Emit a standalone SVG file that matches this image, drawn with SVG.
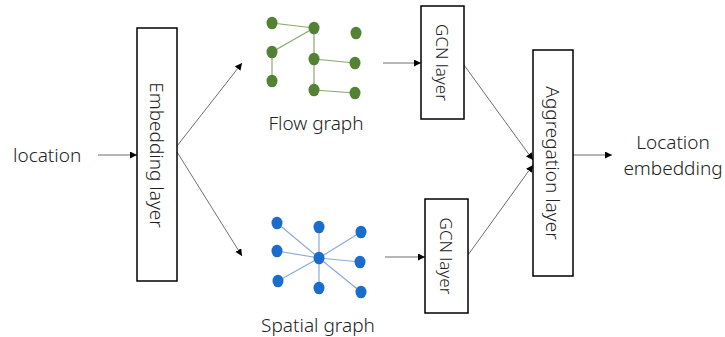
<svg xmlns="http://www.w3.org/2000/svg" width="725" height="337" viewBox="0 0 725 337">
<defs>
<marker id="arr" viewBox="0 0 10 10" refX="10" refY="5" markerWidth="7" markerHeight="7" markerUnits="userSpaceOnUse" orient="auto">
<path d="M0,0 L10,5 L0,10 z" fill="#000"/>
</marker>
</defs>
<style>
text{font-family:"Noto Sans","Liberation Sans",sans-serif;fill:#222;font-weight:300}
.box{fill:#fff;stroke:#000;stroke-width:1.5}
.conn{stroke:#6e6e6e;stroke-width:1;fill:none;marker-end:url(#arr)}
.ge{stroke:#8aa870;stroke-width:1.2}
.gn{fill:#548235}
.be{stroke:#8fa9d9;stroke-width:1.2}
.bn{fill:#1a6ccd}
.lbl{font-size:19px}
</style>
<rect width="725" height="337" fill="#fff"/>
<g id="connectors">
<line class="conn" x1="98" y1="155" x2="137" y2="155"/>
<line class="conn" x1="177" y1="146" x2="242" y2="63"/>
<line class="conn" x1="177" y1="152" x2="242" y2="256"/>
<line class="conn" x1="383" y1="63" x2="421" y2="63"/>
<line class="conn" x1="385" y1="257" x2="425" y2="257"/>
<line class="conn" x1="464" y1="65" x2="533" y2="160"/>
<line class="conn" x1="468" y1="255" x2="533" y2="165"/>
<line class="conn" x1="573" y1="155" x2="612" y2="155"/>
</g>
<g id="location">
<text class="lbl" x="13" y="162">location</text>
</g>
<g id="embedding-layer">
<rect class="box" x="137" y="28" width="40" height="253"/>
<text class="lbl" transform="translate(157,155) rotate(90)" text-anchor="middle" dominant-baseline="central">Embedding layer</text>
</g>
<g id="flow-graph">
<line class="ge" x1="272" y1="23" x2="314" y2="28"/>
<line class="ge" x1="314" y1="28" x2="272" y2="52"/>
<line class="ge" x1="272" y1="52" x2="272" y2="81"/>
<line class="ge" x1="314" y1="28" x2="314" y2="59"/>
<line class="ge" x1="314" y1="59" x2="314" y2="90"/>
<line class="ge" x1="314" y1="59" x2="355" y2="63"/>
<line class="ge" x1="314" y1="90" x2="355" y2="93"/>
<ellipse class="gn" cx="272" cy="23" rx="5.5" ry="6.3"/>
<ellipse class="gn" cx="314" cy="28" rx="5.5" ry="6.3"/>
<ellipse class="gn" cx="356" cy="33" rx="5.5" ry="6.3"/>
<ellipse class="gn" cx="272" cy="52" rx="5.5" ry="6.3"/>
<ellipse class="gn" cx="314" cy="59" rx="5.5" ry="6.3"/>
<ellipse class="gn" cx="355" cy="63" rx="5.5" ry="6.3"/>
<ellipse class="gn" cx="272" cy="81" rx="5.5" ry="6.3"/>
<ellipse class="gn" cx="314" cy="90" rx="5.5" ry="6.3"/>
<ellipse class="gn" cx="355" cy="93" rx="5.5" ry="6.3"/>
<text class="lbl" x="316" y="130" text-anchor="middle">Flow graph</text>
</g>
<g id="spatial-graph">
<line class="be" x1="319" y1="258" x2="277" y2="223"/>
<line class="be" x1="319" y1="258" x2="319" y2="227"/>
<line class="be" x1="319" y1="258" x2="361" y2="232"/>
<line class="be" x1="319" y1="258" x2="277" y2="251"/>
<line class="be" x1="319" y1="258" x2="360" y2="262"/>
<line class="be" x1="319" y1="258" x2="278" y2="281"/>
<line class="be" x1="319" y1="258" x2="319" y2="288"/>
<line class="be" x1="319" y1="258" x2="361" y2="292"/>
<ellipse class="bn" cx="319" cy="258" rx="5.5" ry="6.3"/>
<ellipse class="bn" cx="277" cy="223" rx="5.5" ry="6.3"/>
<ellipse class="bn" cx="319" cy="227" rx="5.5" ry="6.3"/>
<ellipse class="bn" cx="361" cy="232" rx="5.5" ry="6.3"/>
<ellipse class="bn" cx="277" cy="251" rx="5.5" ry="6.3"/>
<ellipse class="bn" cx="360" cy="262" rx="5.5" ry="6.3"/>
<ellipse class="bn" cx="278" cy="281" rx="5.5" ry="6.3"/>
<ellipse class="bn" cx="319" cy="288" rx="5.5" ry="6.3"/>
<ellipse class="bn" cx="361" cy="292" rx="5.5" ry="6.3"/>
<text class="lbl" x="318" y="332" text-anchor="middle">Spatial graph</text>
</g>
<g id="gcn-top">
<rect class="box" x="421" y="6" width="43" height="113"/>
<text font-size="17" transform="translate(442.5,62.5) rotate(90)" text-anchor="middle" dominant-baseline="central">GCN layer</text>
</g>
<g id="gcn-bottom">
<rect class="box" x="425" y="199" width="43" height="114"/>
<text font-size="17" transform="translate(446.5,256) rotate(90)" text-anchor="middle" dominant-baseline="central">GCN layer</text>
</g>
<g id="aggregation-layer">
<rect class="box" x="533" y="50" width="40" height="226"/>
<text class="lbl" transform="translate(553,163) rotate(90)" text-anchor="middle" dominant-baseline="central">Aggregation layer</text>
</g>
<g id="location-embedding">
<text class="lbl" x="673" y="149" text-anchor="middle">Location</text>
<text class="lbl" x="673" y="175" text-anchor="middle">embedding</text>
</g>
</svg>
